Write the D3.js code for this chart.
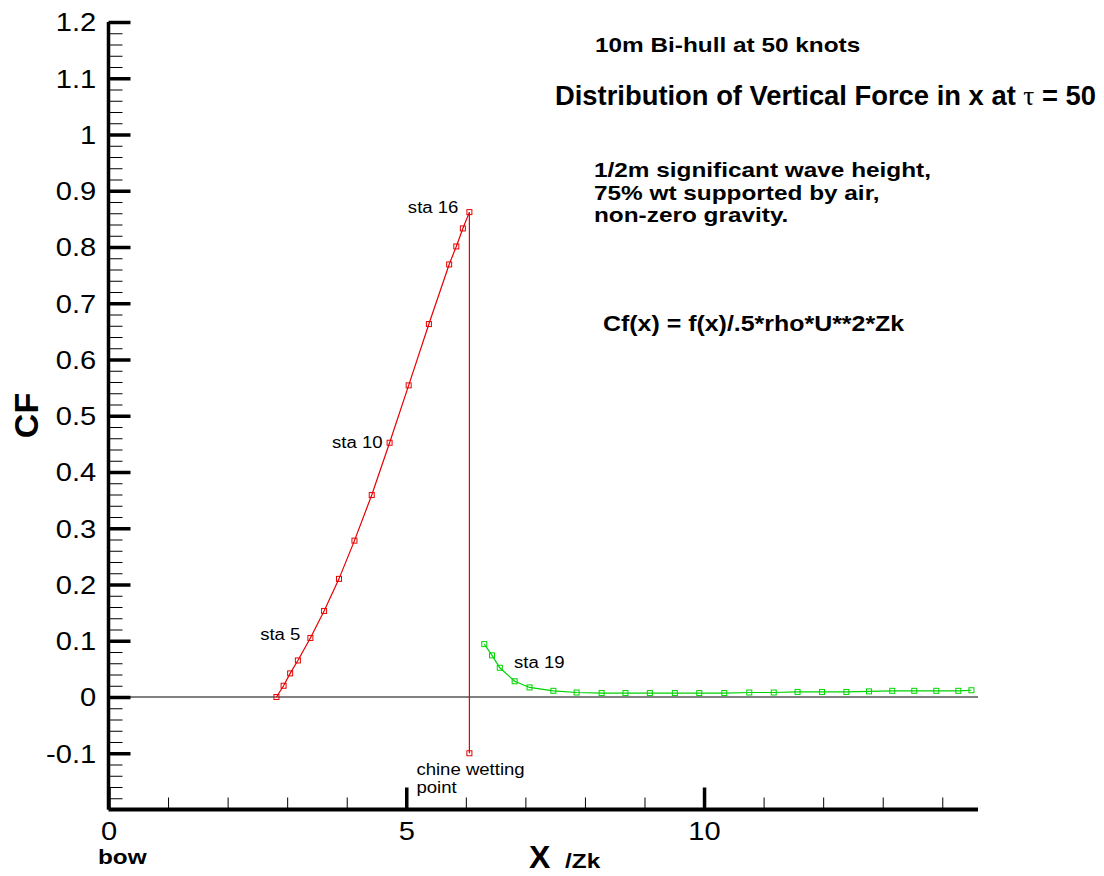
<!DOCTYPE html>
<html>
<head>
<meta charset="utf-8">
<script src="https://cdn.jsdelivr.net/npm/d3@7"></script>
<style>
body { margin: 0; background: #fff; }
svg { display: block; font-family: "Liberation Sans", Arial, sans-serif; }
</style>
</head>
<body>
<div class="chart"></div>
<script>
const WIDTH = 1104;
const HEIGHT = 876;
const LEFT = 108.5;
const RIGHT = 978;
const TOP = 22;
const BOTTOM = 809.5;
const SX = 1.16; // the lettering in the original is a bit wide

// red curve: wetted part up to chine wetting point, last point is the drop
var redX  = [2.82, 2.94, 3.05, 3.18, 3.39, 3.62, 3.87, 4.13, 4.42, 4.72, 5.04, 5.38, 5.72, 5.84, 5.95, 6.06, 6.06];
var redCf = [0, 0.020, 0.042, 0.065, 0.105, 0.153, 0.210, 0.278, 0.359, 0.452, 0.554, 0.663, 0.769, 0.801, 0.833, 0.862, -0.1];

// green curve: aft of the chine wetting point
var greenX  = [6.31, 6.44, 6.57, 6.82, 7.07, 7.47, 7.86, 8.28, 8.68, 9.09, 9.51, 9.92, 10.34, 10.76, 11.17, 11.57, 11.98, 12.39, 12.77, 13.16, 13.53, 13.90, 14.27, 14.49];
var greenCf = [0.094, 0.074, 0.052, 0.028, 0.017, 0.011, 0.008, 0.007, 0.007, 0.007, 0.007, 0.007, 0.007, 0.008, 0.008, 0.009, 0.009, 0.009, 0.010, 0.011, 0.011, 0.011, 0.011, 0.012];

var yTicks = [-0.1, 0, 0.1, 0.2, 0.3, 0.4, 0.5, 0.6, 0.7, 0.8, 0.9, 1, 1.1, 1.2];
var yTickLabels = ['-0.1', '0', '0.1', '0.2', '0.3', '0.4', '0.5', '0.6', '0.7', '0.8', '0.9', '1', '1.1', '1.2'];
var xTicks = [0, 5, 10];
var xTickLabels = ['0', '5', '10'];

var stationNames = ['sta 5', 'sta 10', 'sta 16', 'sta 19'];
var stationSeries = ['red', 'red', 'red', 'green'];
var stationIndex = [4, 9, 15, 1];

var translate = function (x, y) {
  return 'translate(' + x + ',' + y + ')';
};

var xScale = d3.scaleLinear()
  .domain([0, 14.6])
  .range([LEFT, RIGHT]);

var yScale = d3.scaleLinear()
  .domain([-0.2, 1.2])
  .range([BOTTOM, TOP]);

var svg = d3.select('.chart').append('svg')
  .attr('width', WIDTH)
  .attr('height', HEIGHT);

// text that is stretched sideways a little, like the original lettering
var addText = function (x, y, str, size, weight, anchor, sx) {
  return svg.append('g')
    .attr('transform', translate(x, y) + ' scale(' + (sx || 1) + ',1)')
    .append('text')
    .attr('font-size', size)
    .attr('font-weight', weight || 'normal')
    .attr('text-anchor', anchor || 'start')
    .attr('fill', '#000')
    .text(str);
};

// zero line
svg.append('line')
  .attr('x1', xScale(0)).attr('x2', xScale(14.6))
  .attr('y1', yScale(0)).attr('y2', yScale(0))
  .attr('stroke', '#000')
  .attr('stroke-width', 1);

// minor ticks
var yMinor = d3.range(-20, 121, 2).map(function (d) { return d / 100; })
  .filter(function (d) { return Math.abs(d * 10 - Math.round(d * 10)) > 1e-6; });
var xMinor = d3.range(1, 15).filter(function (d) { return d % 5 !== 0; });

svg.append('g')
  .attr('transform', translate(LEFT, 0))
  .call(d3.axisLeft(yScale).tickValues(yMinor).tickSize(-14).tickFormat(''))
  .call(function (g) { g.select('.domain').remove(); })
  .selectAll('line').attr('stroke-width', 1);

svg.append('g')
  .attr('transform', translate(0, BOTTOM))
  .call(d3.axisBottom(xScale).tickValues(xMinor).tickSize(-12).tickFormat(''))
  .call(function (g) { g.select('.domain').remove(); })
  .selectAll('line').attr('stroke-width', 1);

// major axes
var yAxis = svg.append('g')
  .attr('transform', translate(LEFT, 0))
  .call(d3.axisLeft(yScale)
    .tickValues(yTicks)
    .tickSize(-22)
    .tickSizeOuter(0)
    .tickPadding(11)
    .tickFormat(function (d, i) { return yTickLabels[i]; }));
yAxis.select('.domain')
  .attr('d', 'M0,' + TOP + 'V' + BOTTOM)
  .attr('stroke-width', 3.5);
yAxis.selectAll('.tick line').attr('stroke-width', 3.5);
yAxis.selectAll('.tick text')
  .attr('font-size', 26)
  .attr('font-family', '"Liberation Sans", Arial, sans-serif')
  .attr('dy', '0.34em')
  .attr('transform', 'scale(1.12,1)');

var xAxis = svg.append('g')
  .attr('transform', translate(0, BOTTOM))
  .call(d3.axisBottom(xScale)
    .tickValues(xTicks)
    .tickSize(-22)
    .tickSizeOuter(0)
    .tickPadding(12)
    .tickFormat(function (d, i) { return xTickLabels[i]; }));
xAxis.select('.domain')
  .attr('d', 'M' + LEFT + ',0H' + RIGHT)
  .attr('stroke-width', 4);
xAxis.selectAll('.tick line').attr('stroke-width', 3.5);
xAxis.selectAll('.tick text')
  .attr('font-size', 26)
  .attr('font-family', '"Liberation Sans", Arial, sans-serif')
  .attr('transform', 'scale(1.12,1)');

// series
var line = d3.line()
  .x(function (d) { return xScale(d[0]); })
  .y(function (d) { return yScale(d[1]); });

var drawSeries = function (xs, ys, color) {
  var pts = d3.zip(xs, ys);
  var g = svg.append('g');
  g.append('path')
    .attr('d', line(pts))
    .attr('fill', 'none')
    .attr('stroke', color)
    .attr('stroke-width', 1.2);
  g.selectAll('rect').data(pts)
    .enter().append('rect')
    .attr('x', function (d) { return xScale(d[0]) - 2.5; })
    .attr('y', function (d) { return yScale(d[1]) - 2.5; })
    .attr('width', 5)
    .attr('height', 5)
    .attr('fill', 'none')
    .attr('stroke', color)
    .attr('stroke-width', 1);
};

drawSeries(redX, redCf, '#e80000');
drawSeries(greenX, greenCf, '#00d400');

// station labels
var labelOffset = [[-10, 2, 'end'], [-7, 5, 'end'], [-11, 1, 'end'], [22, 13, 'start']];
stationNames.forEach(function (name, i) {
  var k = stationIndex[i];
  var px = stationSeries[i] === 'red' ? xScale(redX[k]) : xScale(greenX[k]);
  var py = stationSeries[i] === 'red' ? yScale(redCf[k]) : yScale(greenCf[k]);
  var o = labelOffset[i];
  addText(px + o[0], py + o[1], name, 16, 'normal', o[2], SX);
});

var last = redX.length - 1;
addText(xScale(redX[last]) - 53, yScale(redCf[last]) + 22, 'chine wetting', 16, 'normal', 'start', SX);
addText(xScale(redX[last]) - 53, yScale(redCf[last]) + 40, 'point', 16, 'normal', 'start', SX);

// axis titles
svg.append('text')
  .attr('transform', translate(38, 415.5) + ' rotate(-90)')
  .attr('text-anchor', 'middle')
  .attr('font-size', 34)
  .attr('font-weight', 'bold')
  .text('CF');

addText(98, 864, 'bow', 21, 'bold', 'start', SX);
addText(529, 868, 'X', 32, 'bold', 'start', 1);
addText(565, 868, '/Zk', 21, 'bold', 'start', SX);

// notes
addText(595, 52, '10m Bi-hull at 50 knots', 21, 'bold', 'start', SX);

var title = svg.append('text')
  .attr('x', 555)
  .attr('y', 105)
  .attr('font-size', 27)
  .attr('font-weight', 'bold')
  .attr('textLength', 541)
  .attr('lengthAdjust', 'spacingAndGlyphs');
title.append('tspan').text('Distribution of Vertical Force in x at ');
title.append('tspan')
  .attr('font-family', '"Liberation Serif", "DejaVu Serif", serif')
  .attr('font-weight', 'normal')
  .text('\u03c4');
title.append('tspan').text(' = 50');

addText(594, 177, '1/2m significant wave height,', 21, 'bold', 'start', SX);
addText(594, 199.5, '75% wt supported by air,', 21, 'bold', 'start', SX);
addText(594, 222, 'non-zero gravity.', 21, 'bold', 'start', SX);

addText(603, 331, 'Cf(x) = f(x)/.5*rho*U**2*Zk', 21.5, 'bold', 'start', SX);
</script>
</body>
</html>
